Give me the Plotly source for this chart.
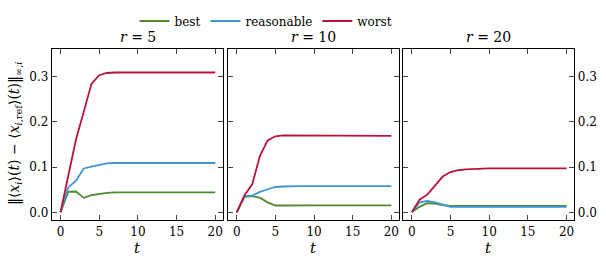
import plotly.graph_objects as go

t = list(range(0, 21))

# r = 5
best_5 = [0, 0.045, 0.046, 0.032, 0.038, 0.041, 0.043, 0.044] + [0.044] * 13
reas_5 = [0, 0.055, 0.070, 0.097, 0.101, 0.105, 0.108, 0.109] + [0.109] * 13
worst_5 = [0, 0.080, 0.161, 0.222, 0.284, 0.303, 0.308, 0.309] + [0.309] * 13

# r = 10
best_10 = [0, 0.034, 0.036, 0.032, 0.022, 0.015, 0.015, 0.0155] + [0.0155] * 13
reas_10 = [0, 0.036, 0.037, 0.045, 0.051, 0.056, 0.057, 0.058] + [0.058] * 13
worst_10 = [0, 0.038, 0.062, 0.125, 0.159, 0.168, 0.170, 0.170, 0.170, 0.170, 0.170,
            0.170, 0.170, 0.1695, 0.1695, 0.1695, 0.169, 0.169, 0.169, 0.169, 0.169]

# r = 20
best_20 = [0, 0.012, 0.020, 0.019, 0.016, 0.014, 0.014, 0.014] + [0.014] * 13
reas_20 = [0, 0.022, 0.025, 0.022, 0.017, 0.012, 0.012, 0.012] + [0.012] * 13
worst_20 = [0, 0.028, 0.039, 0.058, 0.079, 0.089, 0.093, 0.095, 0.096, 0.0965, 0.097,
            0.097, 0.097, 0.097, 0.097, 0.097, 0.097, 0.097, 0.097, 0.097, 0.097]

series_names = ["best", "reasonable", "worst"]
colors = ["#4f8a2f", "#3d95d1", "#b7133c"]
panels = [
    ("<i>r</i> = 5", [best_5, reas_5, worst_5]),
    ("<i>r</i> = 10", [best_10, reas_10, worst_10]),
    ("<i>r</i> = 20", [best_20, reas_20, worst_20]),
]
x_ticks = [0, 5, 10, 15, 20]
y_ticks = [0.0, 0.1, 0.2, 0.3]
y_tick_text = ["0.0", "0.1", "0.2", "0.3"]

W, H = 606, 266
xdomains = [(52 / W, 223 / W), (228.3 / W, 399 / W), (403.3 / W, 574.3 / W)]
ydomain = (1 - 220 / H, 1 - 49 / H)

FONT = "DejaVu Serif"

fig = go.Figure()
for pi, (title, data) in enumerate(panels):
    for si, ys in enumerate(data):
        fig.add_trace(go.Scatter(
            x=t, y=ys, mode="lines", name=series_names[si],
            line=dict(color=colors[si], width=1.8),
            xaxis="x" if pi == 0 else f"x{pi+1}",
            yaxis="y" if pi == 0 else f"y{pi+1}",
            showlegend=(pi == 0),
        ))

layout = dict(
    width=W, height=H,
    margin=dict(l=0, r=0, t=0, b=0, autoexpand=False),
    plot_bgcolor="white", paper_bgcolor="white",
    font=dict(family=FONT, size=12, color="black"),
    legend=dict(orientation="h", x=266 / W, xanchor="center", y=1 - 21 / H, yanchor="middle",
                font=dict(family=FONT, size=12), itemwidth=30, bgcolor="rgba(0,0,0,0)"),
)
annotations = []
for pi in range(3):
    sx = "" if pi == 0 else str(pi + 1)
    layout[f"xaxis{sx}"] = dict(
        domain=list(xdomains[pi]), range=[-1.1, 21], anchor=f"y{sx}",
        tickvals=x_ticks, ticks="inside", ticklen=5, tickwidth=1.1,
        showline=True, linewidth=1.3, linecolor="black", mirror="ticks",
        showgrid=False, zeroline=False, tickfont=dict(family=FONT, size=12),
        automargin=False,
    )
    ya = dict(
        domain=list(ydomain), range=[-0.017, 0.361], anchor=f"x{sx}",
        tickvals=y_ticks,
        showticklabels=(pi in (0, 2)),
        side="right" if pi == 2 else "left",
        ticks="inside", ticklen=5, tickwidth=1.1,
        showline=True, linewidth=1.3, linecolor="black", mirror="ticks",
        showgrid=False, zeroline=False, tickfont=dict(family=FONT, size=12),
        automargin=False,
    )
    if pi in (0, 2):
        ya["ticktext"] = y_tick_text
    layout[f"yaxis{sx}"] = ya
    annotations.append(dict(
        text=panels[pi][0], x=(xdomains[pi][0] + xdomains[pi][1]) / 2, y=1 - 37 / H,
        xref="paper", yref="paper", xanchor="center", yanchor="middle",
        showarrow=False, font=dict(family=FONT, size=14),
    ))
    annotations.append(dict(
        text="<i>t</i>", x=(xdomains[pi][0] + xdomains[pi][1]) / 2, y=1 - 248 / H,
        xref="paper", yref="paper", xanchor="center", yanchor="middle",
        showarrow=False, font=dict(family=FONT, size=15),
    ))

annotations.append(dict(
    text="‖⟨<i>x<sub>i</sub></i>⟩(<i>t</i>) − ⟨<i>x</i><sub><i>i</i>,ref</sub>⟩(<i>t</i>)‖<sub>∞,<i>i</i></sub>",
    x=15 / W, y=1 - 134 / H, xref="paper", yref="paper",
    xanchor="center", yanchor="middle", textangle=-90, showarrow=False,
    font=dict(family=FONT, size=14),
))
layout["annotations"] = annotations
fig.update_layout(**layout)
fig.write_html(
    "out.html",
    config={"displayModeBar": False},
    post_script="document.body.style.margin='0';document.documentElement.style.overflow='hidden';",
)
